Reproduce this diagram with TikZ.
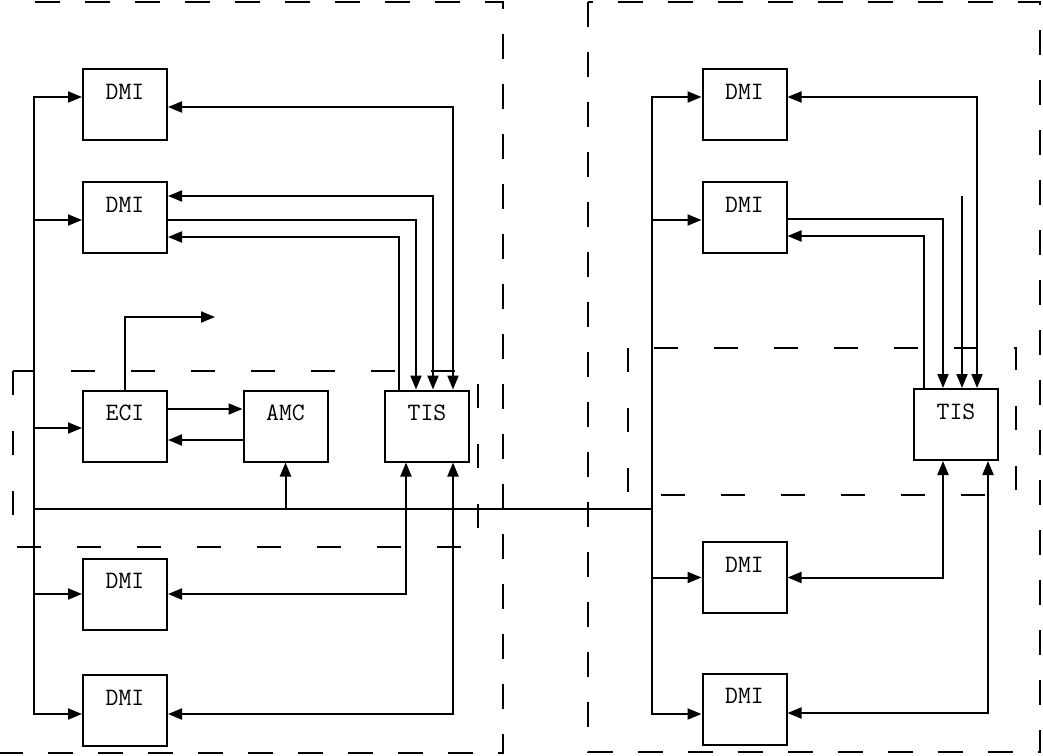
\documentclass[tikz,border=0pt]{standalone}
\usetikzlibrary{arrows.meta}
\begin{document}
\begin{tikzpicture}[x=0.5pt, y=-0.5pt, line width=1pt,
	blk/.style={draw, font=\ttfamily\fontsize{12.5}{14}\selectfont, minimum width=42pt,
		inner xsep=0pt, inner ysep=0pt, text height=15pt, text depth=20.5pt},
	arr/.style={-{Triangle[length=7pt,width=5.5pt]}},
	arrb/.style={{Triangle[length=7pt,width=5.5pt]}-{Triangle[length=7pt,width=5.5pt]}},
	frame/.style={dash pattern=on 12.5pt off 12.5pt},
	zone/.style={dash pattern=on 12pt off 18pt}]
	
	\useasboundingbox (0,0) rectangle (1043,755);
	
	% dashed frames
	\draw[frame] (35,1.5) -- (503,1.5) -- (503,753) -- (0,753);
	
	\draw[frame] (588,1.5) rectangle (1040,752);
	
	\draw[zone] (13,371) rectangle (478,547);
	
	\draw[zone] (628,348) rectangle (1016,495);
	
	% left unit
	\node[blk] (dmiA) at (125,104.5) {DMI};
	
	\node[blk] (dmiB) at (125,217.5) {DMI};
	
	\node[blk] (eci) at (125,426) {ECI};
	
	\node[blk] (amc) at (285.5,426) {AMC};
	
	\node[blk] (tisL) at (427,426) {TIS};
	
	\node[blk] (dmiC) at (125,594) {DMI};
	
	\node[blk] (dmiD) at (125,710.5) {DMI};
	
	% right unit
	\node[blk] (dmiE) at (744.5,104.5) {DMI};
	
	\node[blk] (dmiF) at (744.5,217.5) {DMI};
	
	\node[blk] (tisR) at (956,424.5) {TIS};
	
	\node[blk] (dmiG) at (744.5,577.5) {DMI};
	
	\node[blk] (dmiH) at (744.5,709) {DMI};
	
	\coordinate (hubL) at (34,509);
	
	\coordinate (hubR) at (652,509);
	
	\coordinate (eciOut) at (215,317);
	
	\coordinate (freeR) at (962,196);
	
	% bus lines
	\draw (hubL) -- (hubR);
	
	\draw[arr] (hubL) |- (dmiA.west |- 0,97);
	
	\draw[arr] (hubL) |- (dmiD.west |- 0,714);
	
	\draw[arr] (hubL |- 0,220) -- (dmiB.west |- 0,220);
	
	\draw[arr] (hubL |- 0,428) -- (eci.west |- 0,428);
	
	\draw[arr] (hubL |- dmiC.west) -- (dmiC.west);
	
	\draw[arr] (amc.south |- hubL) -- (amc.south);
	
	\draw[arr] (hubR) |- (dmiE.west |- 0,97);
	
	\draw[arr] (hubR) |- (dmiH.west |- 0,714);
	
	\draw[arr] (hubR |- 0,220) -- (dmiF.west |- 0,220);
	
	\draw[arr] (hubR |- dmiG.west) -- (dmiG.west);
	
	% left links
	\draw[arr] (eci.north) |- (eciOut);
	
	\draw[arr] (eci.east |- 0,409) -- (amc.west |- 0,409);
	
	\draw[arr] (amc.west |- 0,440) -- (eci.east |- 0,440);
	
	\draw[arrb] (dmiA.east |- 0,107) -| (tisL.north -| 453,0);
	
	\draw[arrb] (dmiB.east |- 0,196) -| (tisL.north -| 433,0);
	
	\draw[arr] (dmiB.east |- 0,220) -| (tisL.north -| 416,0);
	
	\draw[arr] (tisL.north -| 399,0) |- (dmiB.east |- 0,237);
	
	\draw[arrb] (tisL.south -| 406,0) |- (dmiC.east);
	
	\draw[arrb] (tisL.south -| 453,0) |- (dmiD.east |- 0,714);
	
	% right links
	\draw[arrb] (dmiE.east |- 0,97) -| (tisR.north -| 977,0);
	
	\draw[arr] (freeR) -- (tisR.north -| freeR);
	
	\draw[arr] (dmiF.east |- 0,219) -| (tisR.north -| 943,0);
	
	\draw[arr] (tisR.north -| 924,0) |- (dmiF.east |- 0,236);
	
	\draw[arrb] (tisR.south -| 943,0) |- (dmiG.east);
	
	\draw[arrb] (tisR.south -| 988,0) |- (dmiH.east |- 0,713);
	
\end{tikzpicture}
\end{document}
